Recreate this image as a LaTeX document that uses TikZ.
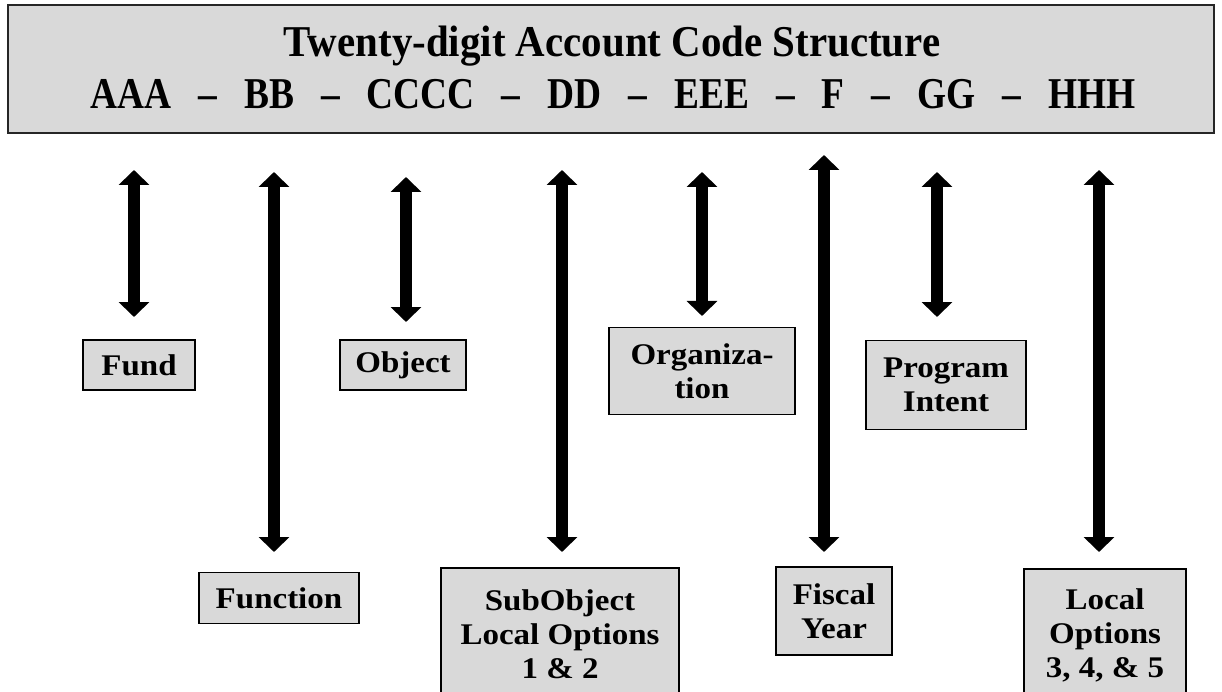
\documentclass[tikz,border=0pt]{standalone}
\usepackage{fontspec}
\setmainfont{Liberation Serif}
\newfontfamily\ttlfont[FakeStretch=0.93]{Liberation Serif}
\newfontfamily\hdfont[FakeStretch=0.85]{Liberation Serif}
\newfontfamily\bxfont[FakeStretch=1.1]{Liberation Serif}
\usetikzlibrary{arrows.meta}
\definecolor{boxgray}{HTML}{D9D9D9}
\newcommand{\dsh}{\hspace{27pt}–\hspace{27pt}}
\tikzset{
  lbl/.style={draw=black, line width=1.5pt, fill=boxgray, align=center,
    font=\bxfont\bfseries\fontsize{30}{34}\selectfont, inner sep=0pt},
  dbl/.style={line width=12pt, {Triangle[width=30pt,length=15pt]}-{Triangle[width=30pt,length=15pt]}},
  hdtext/.style={font=\hdfont\bfseries\fontsize{44}{50}\selectfont, inner sep=0pt, anchor=base},
  ttltext/.style={font=\ttlfont\bfseries\fontsize{44}{50}\selectfont, inner sep=0pt, anchor=base},
}
\begin{document}
\begin{tikzpicture}[x=1pt,y=-1pt]
\clip (0,0) rectangle (1222,692);
\fill[white] (0,0) rectangle (1222,692);
% header
\node[draw=black!85, line width=2pt, fill=boxgray, minimum width=1206pt, minimum height=128pt, inner sep=0pt] (hdr) at (611,69) {};
\node[ttltext] (title) at (612,57) {Twenty-digit Account Code Structure};
\node[hdtext] (codes) at (613,109) {AAA\dsh BB\dsh CCCC\dsh DD\dsh EEE\dsh F\dsh GG\dsh HHH};
% label boxes
\node[lbl, minimum width=112pt, minimum height=50pt] (fund) at (139,365) {Fund};
\node[lbl, minimum width=126pt, minimum height=50pt] (object) at (403,365) {Object};
\node[lbl, minimum width=186pt, minimum height=87pt] (org) at (702,371) {Organiza-\\tion};
\node[lbl, minimum width=160pt, minimum height=89pt] (prog) at (946,385) {Program\\Intent};
\node[lbl, minimum width=160pt, minimum height=51pt] (func) at (279,598) {Function};
\node[lbl, minimum width=238pt, minimum height=132pt] (subobj) at (560,634) {SubObject\\Local Options\\1 \& 2};
\node[lbl, minimum width=116pt, minimum height=88pt] (fiscal) at (834,611) {Fiscal\\Year};
\node[lbl, minimum width=162pt, minimum height=132pt] (local) at (1105,635) {Local\\Options\\3, 4, \& 5};
% arrow ends
\coordinate (a1t) at (134,170); \coordinate (a1b) at (134,317);
\coordinate (a2t) at (274,172); \coordinate (a2b) at (274,552);
\coordinate (a3t) at (406,177); \coordinate (a3b) at (406,322);
\coordinate (a4t) at (562,170); \coordinate (a4b) at (562,552);
\coordinate (a5t) at (702,172); \coordinate (a5b) at (702,316);
\coordinate (a6t) at (824,155); \coordinate (a6b) at (824,552);
\coordinate (a7t) at (937,172); \coordinate (a7b) at (937,317);
\coordinate (a8t) at (1099,170); \coordinate (a8b) at (1099,552);
\foreach \i in {1,...,8} { \draw[dbl] (a\i t) -- (a\i b); }
\end{tikzpicture}
\end{document}
